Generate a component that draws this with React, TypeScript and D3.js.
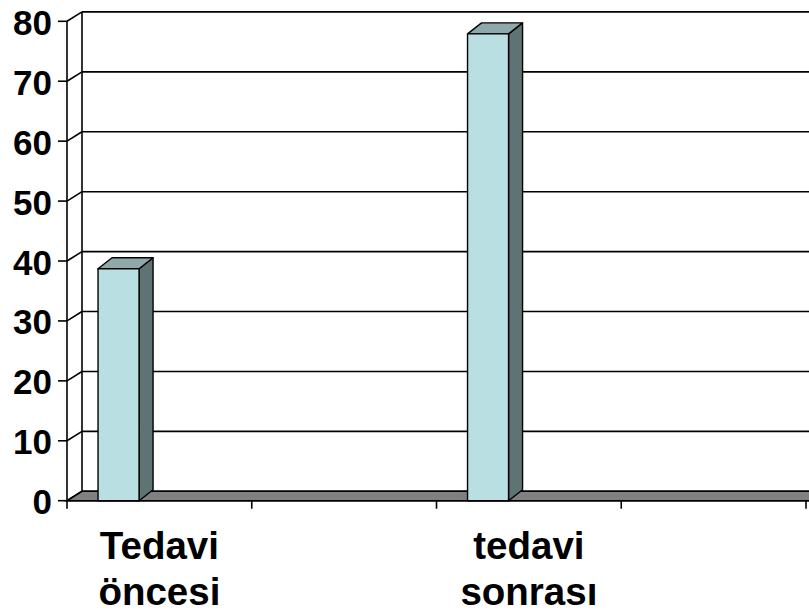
import * as d3 from 'd3';
import React from 'react';

// chart data
const categories = ['Tedavi öncesi', '', 'tedavi sonrası', ''];
const values: (number | null)[] = [38.7, null, 77.9, null];
const yTicks = [0, 10, 20, 30, 40, 50, 60, 70, 80];

const W = 809;
const H = 615;
const DX = 15; // wall depth
const DY = -9.4;
const BDX = 14; // bar depth
const BDY = -11;

const App = () => {
  const x = d3
    .scaleBand<number>()
    .domain(d3.range(categories.length))
    .range([67, 806])
    .padding(0);
  const y = d3.scaleLinear().domain([0, 80]).range([500.7, 21.3]);
  const bw = x.bandwidth();
  const font = "'Liberation Sans', Arial, sans-serif";
  const line = '#000';

  const y0 = y(0);
  const yTop = y(80);

  return (
    <div style={{ position: 'absolute', left: 0, top: 0, background: '#fff' }}>
      <svg width={W} height={H} style={{ display: 'block' }}>
        <rect width={W} height={H} fill="#fff" />
        {/* back wall gridlines */}
        {yTicks.map((t) => (
          <line
            key={'g' + t}
            x1={67 + DX}
            x2={W + 20}
            y1={y(t) + DY}
            y2={y(t) + DY}
            stroke={line}
            strokeWidth={1.6}
          />
        ))}
        {/* back wall left edge */}
        <line
          x1={67 + DX}
          x2={67 + DX}
          y1={yTop + DY}
          y2={y0 + DY}
          stroke={line}
          strokeWidth={1.6}
        />
        {/* side wall diagonals */}
        {yTicks.map((t) => (
          <line
            key={'d' + t}
            x1={67}
            y1={y(t)}
            x2={67 + DX}
            y2={y(t) + DY}
            stroke={line}
            strokeWidth={1.6}
          />
        ))}
        {/* floor */}
        <polygon
          points={`67,${y0} ${W + 20},${y0} ${W + 20 + DX},${y0 + DY} ${67 + DX},${y0 + DY}`}
          fill="#808080"
          stroke={line}
          strokeWidth={1.6}
        />
        {/* bars */}
        {values.map((v, i) => {
          if (v === null) return null;
          const bx = (x(i) as number) + bw * 0.168;
          const bwid = bw * 0.222;
          const top = y(v);
          return (
            <g key={'b' + i} stroke={line} strokeWidth={1.4} strokeLinejoin="round">
              <polygon
                points={`${bx + bwid},${y0} ${bx + bwid + BDX},${y0 + BDY} ${bx + bwid + BDX},${top + BDY} ${bx + bwid},${top}`}
                fill="#5E7374"
              />
              <polygon
                points={`${bx},${top} ${bx + bwid},${top} ${bx + bwid + BDX},${top + BDY} ${bx + BDX},${top + BDY}`}
                fill="#8FA9AB"
              />
              <rect x={bx} y={top} width={bwid} height={y0 - top} fill="#B9DFE3" />
            </g>
          );
        })}
        {/* front value axis */}
        <line x1={67} x2={67} y1={yTop} y2={y0} stroke={line} strokeWidth={1.6} />
        {yTicks.map((t) => (
          <g key={'t' + t}>
            <line x1={58} x2={67} y1={y(t)} y2={y(t)} stroke={line} strokeWidth={1.6} />
            <text
              x={52}
              y={y(t) + 13.5}
              textAnchor="end"
              fontFamily={font}
              fontWeight="bold"
              fontSize={35}
              fill="#000"
            >
              {t}
            </text>
          </g>
        ))}
        {/* category axis */}
        <line x1={67} x2={W + 20} y1={y0} y2={y0} stroke={line} strokeWidth={1.6} />
        {d3.range(categories.length + 1).map((i) => {
          const tx = i < categories.length ? (x(i) as number) : 806;
          return (
            <line key={'xt' + i} x1={tx} x2={tx} y1={y0} y2={y0 + 8} stroke={line} strokeWidth={1.6} />
          );
        })}
        {categories.map((c, i) =>
          c.split(' ').map((w, j) => (
            <text
              key={'c' + i + j}
              x={(x(i) as number) + bw / 2}
              y={559 + j * 46}
              textAnchor="middle"
              fontFamily={font}
              fontWeight="bold"
              fontSize={38.5}
              fill="#000"
            >
              {w}
            </text>
          ))
        )}
      </svg>
    </div>
  );
};

export default App;
